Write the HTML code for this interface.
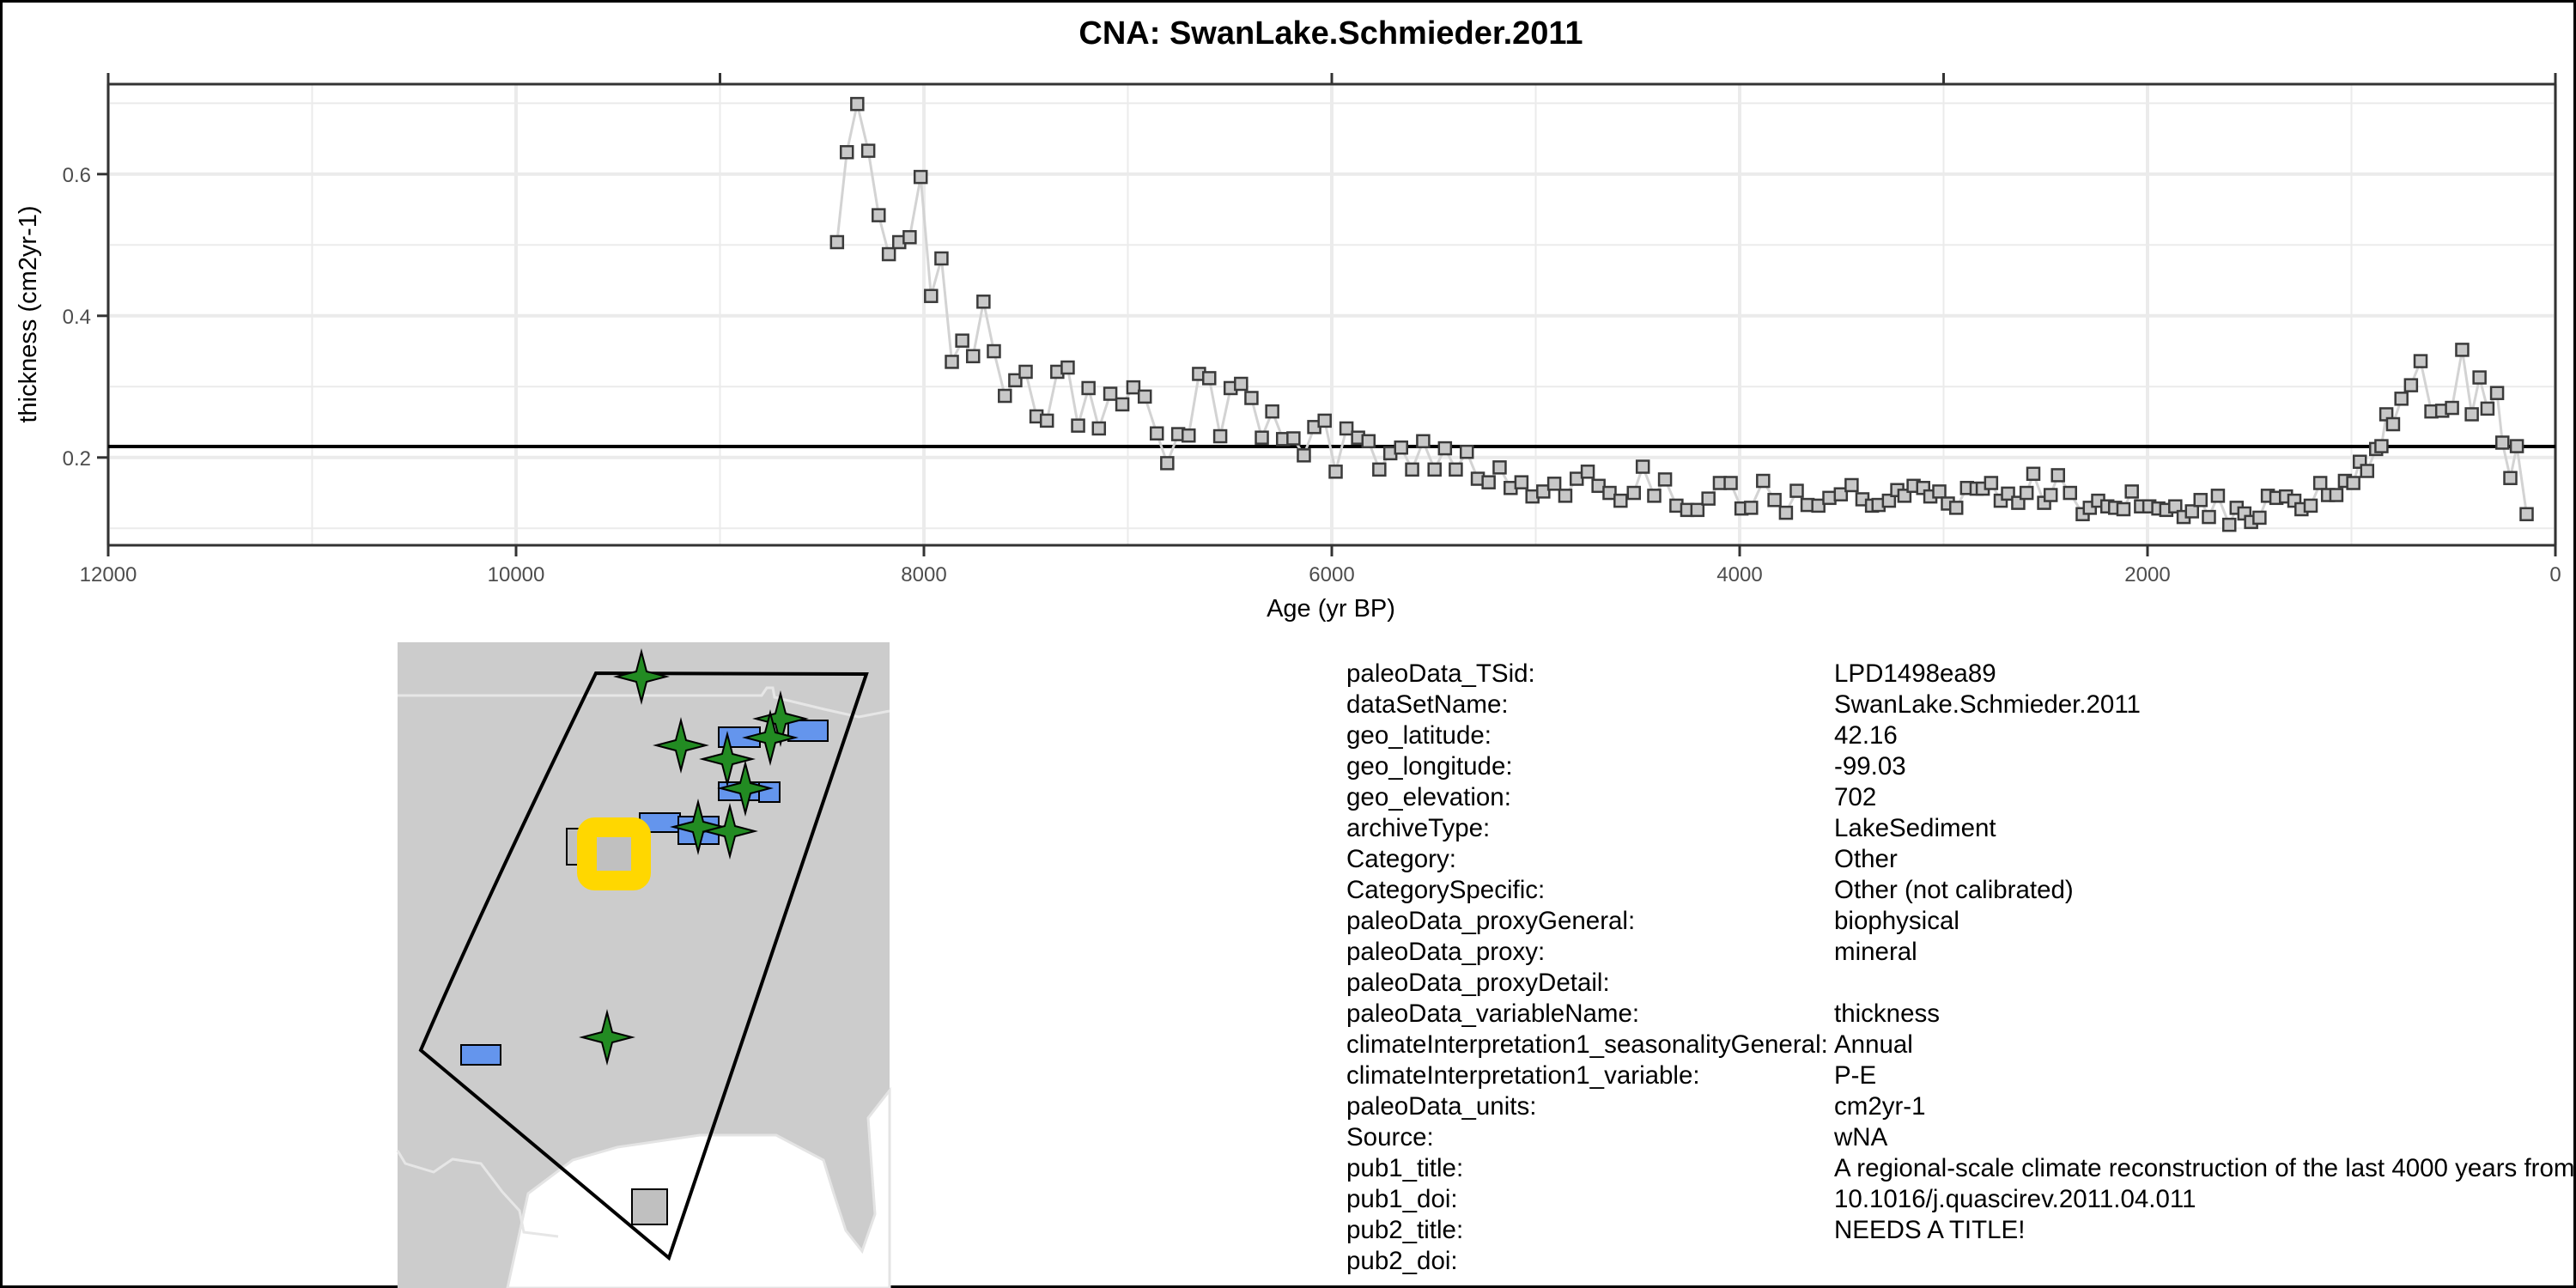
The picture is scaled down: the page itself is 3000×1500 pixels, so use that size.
<!DOCTYPE html>
<html><head><meta charset="utf-8"><style>
html,body{margin:0;padding:0;background:#fff}
svg{display:block}
text{font-family:"Liberation Sans",sans-serif}
</style></head><body>
<svg id="fig" width="3000" height="1500" viewBox="0 0 3000 1500" xmlns="http://www.w3.org/2000/svg">
<rect x="1.5" y="1.5" width="2997" height="1497" fill="#fff" stroke="#000" stroke-width="3"/>
<text x="1550" y="51" text-anchor="middle" font-size="38" font-weight="bold">CNA: SwanLake.Schmieder.2011</text>
<g id="grid"></g>
<g id="axes"></g>
<line id="meanline" stroke="#000" stroke-width="4"/>
<polyline id="series-line" fill="none" stroke="#d3d3d3" stroke-width="3"/>
<g id="points"></g>
<text x="1550" y="718" text-anchor="middle" font-size="29">Age (yr BP)</text>
<text transform="translate(42,366) rotate(-90)" text-anchor="middle" font-size="29">thickness (cm2yr-1)</text>

<g>
<rect x="463" y="748" width="573" height="752" fill="#cccccc"/>
<path d="M591,1500 L615,1390 L667,1351 L719,1336 L815,1322 L904,1322 L959,1351 L971,1390 L985,1433 L1004,1457 L1019,1414 L1011,1302 L1036,1270 L1036,1500 Z" fill="#fff" stroke="#e4e4e4" stroke-width="3"/>
<path d="M463,810 L887,810 L893,801 L900,801 L902,812 L960,826 L1000,835 L1036,828" fill="none" stroke="#e6e6e6" stroke-width="3"/>
<path d="M463,1340 L472,1355 L505,1365 L527,1350 L560,1355 L585,1388 L605,1410 L610,1435 L650,1440" fill="none" stroke="#e6e6e6" stroke-width="3"/>
<path d="M694,784 L1009,785 L779,1465 L490,1223 Q560,1060 694,784 Z" fill="none" stroke="#000" stroke-width="4"/>
<rect x="660" y="965" width="29" height="42" fill="#c0c0c0" stroke="#000" stroke-width="2"/>
<rect x="736" y="1385" width="41" height="41" fill="#c0c0c0" stroke="#000" stroke-width="2"/>
<g fill="#6495ed" stroke="#000" stroke-width="2">
<rect x="837" y="847" width="48" height="23"/><rect x="918" y="839" width="46" height="24"/>
<rect x="837" y="911" width="47" height="21"/><rect x="884" y="911" width="24" height="23"/>
<rect x="745" y="947" width="47" height="22"/><rect x="790" y="951" width="47" height="32"/>
<rect x="537" y="1217" width="46" height="23"/>
</g>
<g id="stars" fill="#228b22" stroke="#000" stroke-width="2"></g>
<rect x="683.5" y="963.5" width="63" height="62" rx="9" fill="#c0c0c0" stroke="#ffd700" stroke-width="23"/>
</g>
<g id="meta" font-size="29.5"></g>
</svg>
<script>
const ages=[8426,8378,8327,8273,8222,8172,8121,8070,8016,7965,7914,7863,7812,7759,7708,7657,7603,7552,7501,7448,7397,7346,7295,7244,7193,7142,7086,7027,6973,6917,6858,6807,6753,6702,6651,6601,6547,6496,6445,6394,6343,6292,6239,6188,6137,6086,6035,5981,5928,5871,5820,5767,5713,5660,5606,5552,5496,5445,5392,5338,5284,5231,5177,5123,5070,5016,4963,4909,4855,4799,4745,4692,4638,4584,4519,4475,4419,4366,4310,4257,4207,4153,4097,4044,3991,3944,3885,3829,3773,3720,3667,3614,3560,3504,3451,3398,3351,3319,3268,3227,3192,3147,3100,3065,3021,2979,2938,2885,2838,2808,2767,2720,2684,2634,2593,2560,2507,2475,2439,2380,2318,2283,2242,2197,2159,2118,2077,2032,1991,1947,1908,1864,1823,1782,1740,1699,1655,1599,1563,1525,1492,1451,1410,1368,1321,1280,1245,1200,1153,1115,1074,1032,991,959,923,879,853,829,796,755,708,661,608,555,507,457,410,372,333,286,260,221,189,141];
const values=[0.504,0.631,0.699,0.633,0.542,0.487,0.504,0.511,0.596,0.428,0.481,0.335,0.365,0.343,0.420,0.350,0.287,0.309,0.321,0.258,0.252,0.321,0.327,0.245,0.298,0.241,0.290,0.275,0.299,0.286,0.234,0.192,0.233,0.231,0.318,0.312,0.230,0.298,0.304,0.284,0.228,0.265,0.226,0.227,0.203,0.243,0.252,0.180,0.241,0.228,0.223,0.183,0.206,0.214,0.183,0.223,0.183,0.213,0.183,0.208,0.170,0.165,0.186,0.157,0.165,0.145,0.152,0.163,0.146,0.170,0.180,0.160,0.150,0.139,0.150,0.187,0.146,0.169,0.132,0.126,0.126,0.142,0.164,0.164,0.128,0.129,0.167,0.140,0.122,0.153,0.133,0.132,0.143,0.148,0.161,0.141,0.132,0.133,0.139,0.154,0.146,0.160,0.157,0.145,0.152,0.135,0.129,0.157,0.156,0.156,0.164,0.139,0.149,0.136,0.150,0.177,0.136,0.147,0.175,0.150,0.120,0.129,0.139,0.131,0.129,0.127,0.152,0.131,0.131,0.128,0.126,0.131,0.116,0.124,0.140,0.116,0.146,0.105,0.129,0.121,0.109,0.115,0.146,0.143,0.145,0.139,0.127,0.132,0.164,0.147,0.147,0.167,0.164,0.194,0.181,0.212,0.216,0.261,0.247,0.283,0.302,0.336,0.265,0.266,0.270,0.352,0.261,0.313,0.269,0.291,0.221,0.171,0.216,0.120];
const meanValue=0.2155;
const xTicks=[12000,10000,8000,6000,4000,2000,0];
const xTickLabels=["12000","10000","8000","6000","4000","2000","0"];
const xMinor=[11000,9000,7000,5000,3000,1000];
const xTopTicks=[12000,9000,6000,3000,0];
const yTicks=[0.2,0.4,0.6];
const yTickLabels=["0.2","0.4","0.6"];
const yMinor=[0.1,0.3,0.5,0.7];
const starSites=[[747,788],[793,868],[847,884],[868,918],[813,963],[850,968],[909,837],[897,859],[707,1208]];
const metaKeys=["paleoData_TSid:","dataSetName:","geo_latitude:","geo_longitude:","geo_elevation:","archiveType:","Category:","CategorySpecific:","paleoData_proxyGeneral:","paleoData_proxy:","paleoData_proxyDetail:","paleoData_variableName:","climateInterpretation1_seasonalityGeneral:","climateInterpretation1_variable:","paleoData_units:","Source:","pub1_title:","pub1_doi:","pub2_title:","pub2_doi:"];
const metaVals=["LPD1498ea89","SwanLake.Schmieder.2011","42.16","-99.03","702","LakeSediment","Other","Other (not calibrated)","biophysical","mineral","","thickness","Annual","P-E","cm2yr-1","wNA","A regional-scale climate reconstruction of the last 4000 years from lakes in the Nebraska Sand Hills, USA","10.1016/j.quascirev.2011.04.011","NEEDS A TITLE!",""];

const NS="http://www.w3.org/2000/svg";
const L=126,R=2976,T=98,B=635;
const xs=a=>R-(a/12000)*(R-L);
const ys=v=>532.8-(v-0.2)*825;
function mk(tag,attrs,parent){const e=document.createElementNS(NS,tag);for(const k in attrs)e.setAttribute(k,attrs[k]);parent.appendChild(e);return e;}
const grid=document.getElementById('grid'),axes=document.getElementById('axes');
yMinor.forEach(v=>{const e=mk('line',{x1:L,x2:R,y1:ys(v),y2:ys(v),stroke:'#ebebeb','stroke-width':2},grid);

});
xMinor.forEach(a=>{const e=mk('line',{x1:xs(a),x2:xs(a),y1:T,y2:B,stroke:'#ebebeb','stroke-width':2},grid);

});
yTicks.forEach((v,i)=>{const e=mk('line',{x1:L,x2:R,y1:ys(v),y2:ys(v),stroke:'#ebebeb','stroke-width':4},grid);


const t=mk('line',{x1:L-13,x2:L,y1:ys(v),y2:ys(v),stroke:'#333','stroke-width':3},axes);


const tx=mk('text',{x:L-20,y:ys(v)+9,'text-anchor':'end','font-size':24,fill:'#4d4d4d'},axes);tx.textContent=yTickLabels[i];

});
xTicks.forEach((a,i)=>{const e=mk('line',{x1:xs(a),x2:xs(a),y1:T,y2:B,stroke:'#ebebeb','stroke-width':4},grid);


const t=mk('line',{x1:xs(a),x2:xs(a),y1:B,y2:B+13,stroke:'#333','stroke-width':3},axes);


const tx=mk('text',{x:xs(a),y:B+42,'text-anchor':'middle','font-size':24,fill:'#4d4d4d'},axes);tx.textContent=xTickLabels[i];

});
xTopTicks.forEach(a=>{const t=mk('line',{x1:xs(a),x2:xs(a),y1:T-13,y2:T,stroke:'#333','stroke-width':3},axes);

});
[[L,T,R,T],[L,B,R,B],[L,T,L,B],[R,T,R,B]].forEach(c=>{const e=mk('line',{x1:c[0],y1:c[1],x2:c[2],y2:c[3],stroke:'#333','stroke-width':3},axes);

});
const ml=document.getElementById('meanline');
ml.setAttribute('x1',L);ml.setAttribute('x2',R);ml.setAttribute('y1',ys(meanValue));ml.setAttribute('y2',ys(meanValue));
document.getElementById('series-line').setAttribute('points',ages.map((a,i)=>xs(a).toFixed(1)+','+ys(values[i]).toFixed(1)).join(' '));
const pts=document.getElementById('points');
ages.forEach((a,i)=>{const r=mk('rect',{x:xs(a)-7,y:ys(values[i])-7,width:14,height:14,fill:'#c8c8c8',stroke:'#3a3a3a','stroke-width':2.5},pts);

});
const stars=document.getElementById('stars');
starSites.forEach(s=>{const [cx,cy]=s,w=29,h=29,k=6;
const p=mk('polygon',{points:`${cx},${cy-h} ${cx+k},${cy-k} ${cx+w},${cy} ${cx+k},${cy+k} ${cx},${cy+h} ${cx-k},${cy+k} ${cx-w},${cy} ${cx-k},${cy-k}`},stars);

});
const meta=document.getElementById('meta');
metaKeys.forEach((k,i)=>{const y=794+i*36;
const a=mk('text',{x:1568,y:y},meta);a.textContent=k;


const b=mk('text',{x:2136,y:y},meta);b.textContent=metaVals[i];

});
</script>
</body></html>
